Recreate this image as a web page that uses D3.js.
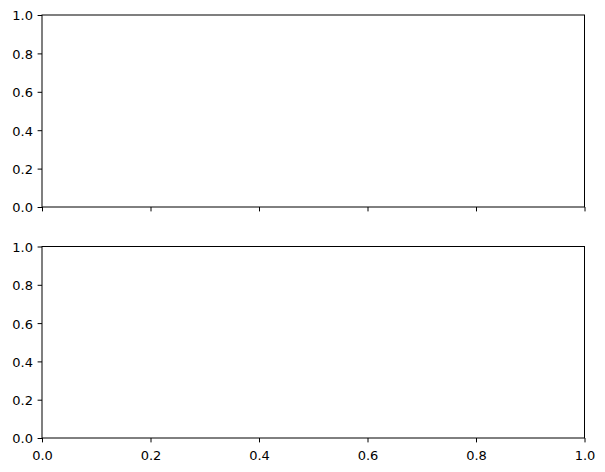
<!DOCTYPE html>
<html><head><meta charset="utf-8">
<script src="https://cdn.jsdelivr.net/npm/d3@7"></script>
<style>body{margin:0;background:#fff}svg{display:block}</style>
</head><body>
<script>
const xTicks = [0.0, 0.2, 0.4, 0.6, 0.8, 1.0];
const yTicks = [0.0, 0.2, 0.4, 0.6, 0.8, 1.0];
const panels = ["top", "bottom"];

const W = 605, H = 472;
const left = 42, right = 584.5;
const panelBox = {top: [15, 207], bottom: [246.5, 438]};
const tickLen = 4.4, fs = 13;

const svg = d3.select("body").append("svg").attr("width", W).attr("height", H);

const x = d3.scaleLinear().domain([0, 1]).range([left, right]);
const fmt = d3.format(".1f");

panels.forEach((p, i) => {
  const [t, b] = panelBox[p];
  const y = d3.scaleLinear().domain([0, 1]).range([b, t]);
  const g = svg.append("g");
  const ya = g.append("g").attr("transform", `translate(${left},0)`)
    .call(d3.axisLeft(y).tickValues(yTicks).tickFormat(fmt).tickSize(tickLen).tickPadding(4.6));
  const xa = g.append("g").attr("transform", `translate(0,${b})`)
    .call(d3.axisBottom(x).tickValues(xTicks).tickFormat(i === panels.length - 1 ? fmt : () => "").tickSize(tickLen).tickPadding(8.4));
  ya.selectAll("text").attr("dy", "0.38em");
  [ya, xa].forEach(a => {
    a.attr("font-family", null).attr("font-size", null);
    a.select(".domain").remove();
    a.selectAll("line").attr("stroke", "#000").attr("stroke-width", 1);
    a.selectAll("text").attr("fill", "#000")
      .attr("font-family", "DejaVu Sans").attr("font-size", fs);
  });
  xa.selectAll("text").attr("dy", "0.71em");
  g.append("rect").attr("x", left).attr("y", t).attr("width", right - left).attr("height", b - t)
    .attr("fill", "none").attr("stroke", "#000").attr("stroke-width", 1);
});
</script>
</body></html>
